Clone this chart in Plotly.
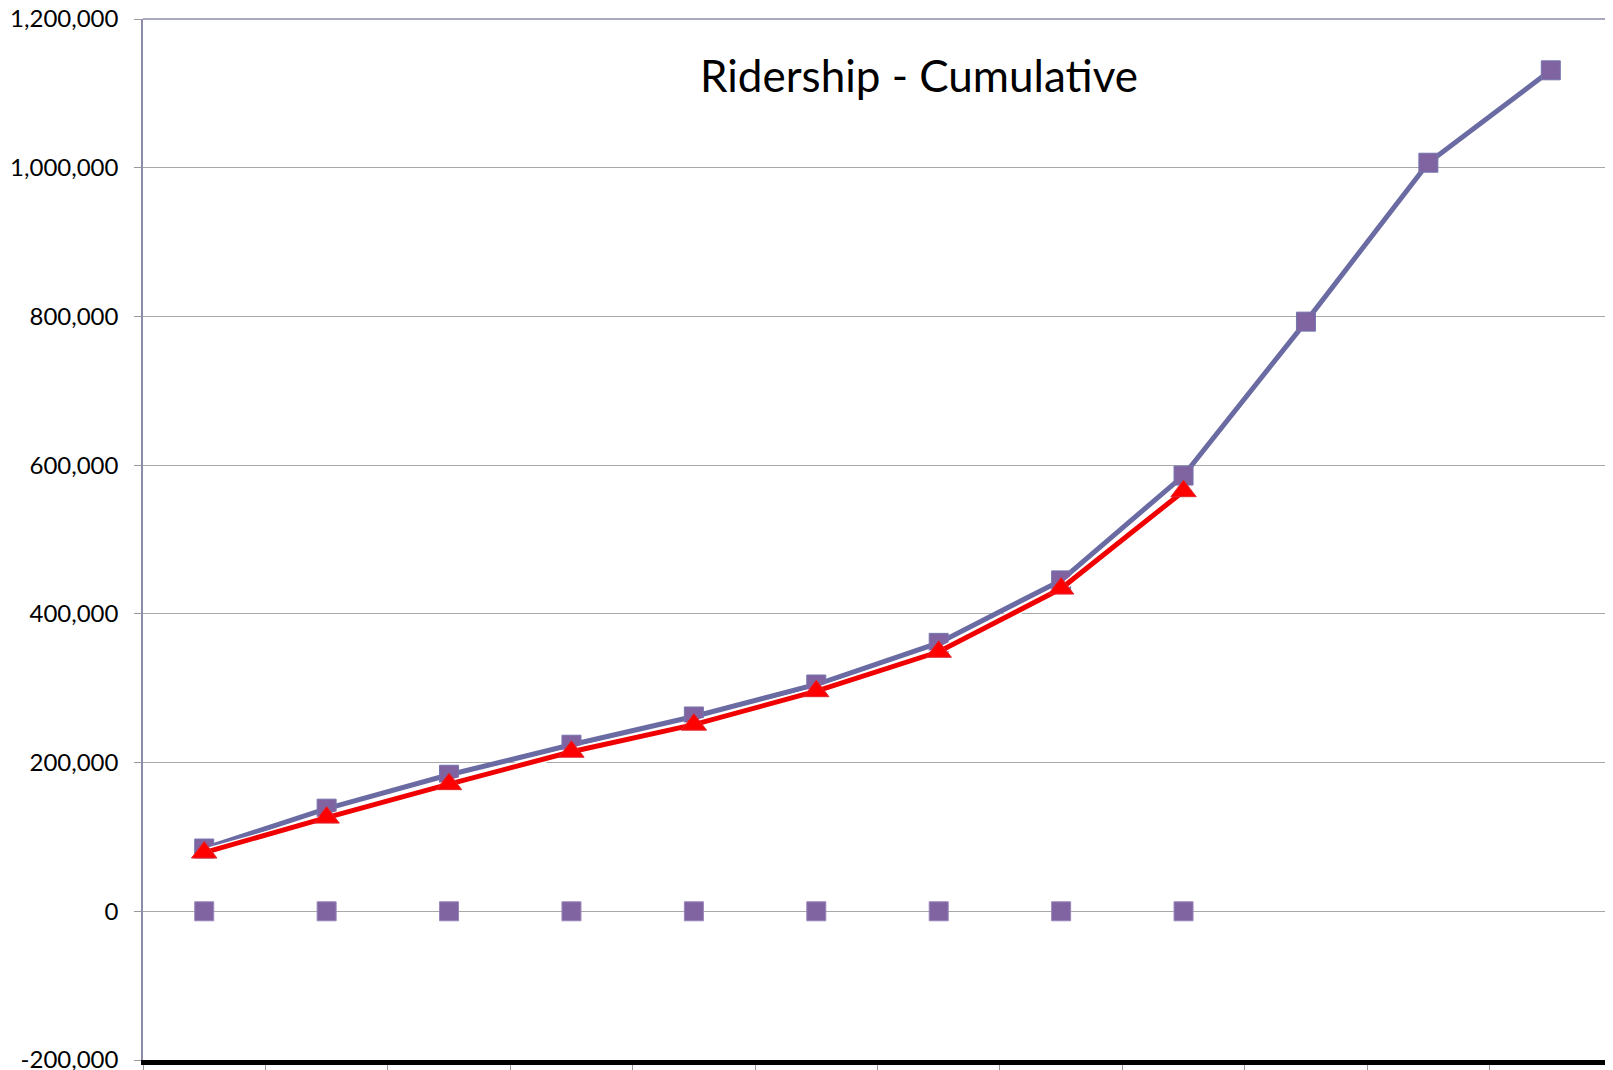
import plotly.graph_objects as go

categories = ["1", "2", "3", "4", "5", "6", "7", "8", "9", "10", "11", "12"]
projected = [84400, 138000, 183600, 224000, 262000, 305000, 361000, 445000, 586000, 793000, 1006700, 1131000]
actual = [79000, 126000, 171000, 214600, 251000, 296000, 349000, 434000, 565000]
baseline = [0, 0, 0, 0, 0, 0, 0, 0, 0]
y_tickvals = [-200000, 0, 200000, 400000, 600000, 800000, 1000000, 1200000]
y_ticktext = ["-200,000", "0", "200,000", "400,000", "600,000", "800,000", "1,000,000", "1,200,000"]
title_text = "Ridership - Cumulative"

PURPLE_LINE = "#6B6BA3"
PURPLE_FILL = "#8064A2"
PURPLE_EDGE = "#7575AE"
RED = "#FF0000"

# page body adds an 8px offset; figure is sized so that the plot lands where the reference has it
OFF = 8
W, H = 1613 - OFF, 1070 - OFF

fig = go.Figure()
fig.add_trace(go.Scatter(
    x=categories[:len(baseline)], y=baseline, mode="markers",
    marker=dict(symbol="square", size=19, color=PURPLE_FILL, line=dict(color="#9A86BA", width=1)),
    showlegend=False, cliponaxis=False))
fig.add_trace(go.Scatter(
    x=categories, y=projected, mode="lines+markers",
    line=dict(color=PURPLE_LINE, width=5),
    marker=dict(symbol="square", size=19, color=PURPLE_FILL, line=dict(color=PURPLE_EDGE, width=1)),
    showlegend=False, cliponaxis=False))
fig.add_trace(go.Scatter(
    x=categories[:len(actual)], y=actual, mode="lines",
    line=dict(color="white", width=8),
    showlegend=False, hoverinfo="skip"))
fig.add_trace(go.Scatter(
    x=categories[:len(actual)], y=actual, mode="lines+markers",
    line=dict(color="#F00000", width=5),
    marker=dict(symbol="triangle-up", size=22, color=RED, line=dict(color="#E0262E", width=1)),
    showlegend=False, cliponaxis=False))

fig.update_layout(
    width=W, height=H,
    margin=dict(l=143 - OFF, r=1, t=19 - OFF, b=10, autoexpand=False),
    paper_bgcolor="white", plot_bgcolor="white",
    font=dict(family="Lato, Carlito, sans-serif", color="black"),
    title=dict(text=title_text, x=(919 - OFF) / W, xanchor="center", y=1 - (77 - OFF) / H, yanchor="middle",
               font=dict(size=44, family="Lato, sans-serif", color="black")),
    xaxis=dict(type="category", range=[-0.5, 11.5], showgrid=False, zeroline=False,
               showticklabels=False, ticks="outside", ticklen=10, tickcolor="#999999",
               tickson="boundaries", showline=True, linecolor="black", linewidth=5,
               automargin=False),
    yaxis=dict(range=[-200000, 1200000], tickvals=y_tickvals, ticktext=y_ticktext,
               showgrid=True, gridcolor="#A8A8A8", gridwidth=1, zeroline=False,
               ticks="outside", ticklen=7, tickcolor="#999999",
               showline=True, linecolor="#8C8CA8", linewidth=1.5,
               tickfont=dict(size=24, family="Lato, sans-serif", color="black"),
               ticklabelstandoff=11, ticklabeloverflow="allow", automargin=False),
    shapes=[
        dict(type="line", xref="paper", yref="paper", x0=0, x1=1, y0=1, y1=1,
             line=dict(color="#8C8CA8", width=1.5)),
        dict(type="line", xref="paper", yref="paper", x0=1, x1=1, y0=0, y1=1,
             line=dict(color="#333344", width=2)),
    ],
)

fig.write_html("out.html")
